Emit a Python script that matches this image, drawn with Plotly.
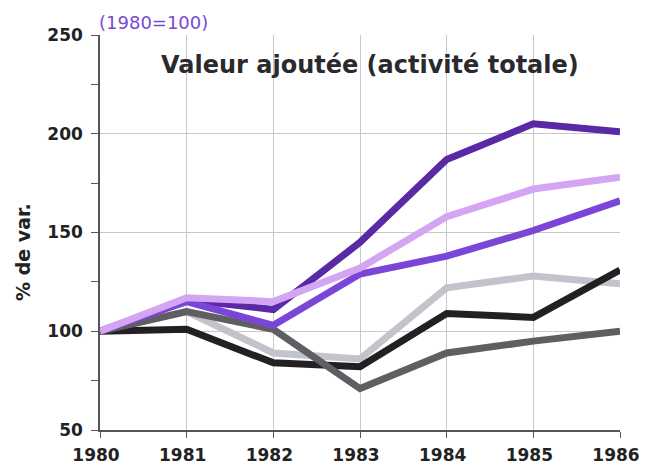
import plotly.graph_objects as go

years = [1980, 1981, 1982, 1983, 1984, 1985, 1986]
dark_gray = [100, 110, 101, 71, 89, 95, 100]
black = [100, 101, 84, 82, 109, 107, 131]
light_gray = [100, 110, 89, 86, 122, 128, 124]
medium_purple = [100, 115, 103, 129, 138, 151, 166]
dark_purple = [100, 116, 111, 145, 187, 205, 201]
light_purple = [100, 117, 115, 132, 158, 172, 178]

series = [
    (light_gray, "#c3c3cb"),
    (black, "#231f22"),
    (dark_gray, "#5f5e63"),
    (dark_purple, "#5a2aa6"),
    (medium_purple, "#7a46d8"),
    (light_purple, "#d3a5f3"),
]

fig = go.Figure()
for vals, col in series:
    fig.add_trace(go.Scatter(x=years, y=vals, mode="lines",
                             line=dict(color=col, width=7), showlegend=False,
                             hoverinfo="skip", cliponaxis=False))

W, H = 639, 457
L, R, T, B = 92, 27, 27, 35
plot_w = W - L - R
plot_h = H - T - B

# page body has an 8px default margin: figure is 639x457, offset by 8px
fig.update_layout(
    width=W, height=H,
    margin=dict(l=L, r=R, t=T, b=B, autoexpand=False),
    paper_bgcolor="white", plot_bgcolor="white",
    xaxis=dict(range=[1980, 1986], tickvals=years, ticktext=[str(y) for y in years],
               showgrid=True, gridcolor="#c8c8c8", gridwidth=1,
               showline=True, linecolor="#555555", linewidth=1.5,
               ticks="outside", ticklen=6, tickcolor="#555555",
               tickfont=dict(family="DejaVu Sans", size=17, color="#222222", weight="bold"),
               ticklabelstandoff=3, ticklabelshift=-4, automargin=False,
               zeroline=False),
    yaxis=dict(range=[50, 250], tickvals=[50, 100, 150, 200, 250],
               showgrid=True, gridcolor="#c8c8c8", gridwidth=1,
               showline=True, linecolor="#555555", linewidth=1.5,
               ticks="outside", ticklen=7, tickcolor="#555555",
               minor=dict(dtick=25, ticks="outside", ticklen=7, tickcolor="#555555", showgrid=False),
               tickfont=dict(family="DejaVu Sans", size=17, color="#222222", weight="bold"),
               ticklabelstandoff=5, automargin=False,
               zeroline=False),
    annotations=[
        dict(text="<b>Valeur ajoutée (activité totale)</b>", x=0.52, y=235,
             xref="paper", yref="y", showarrow=False, xanchor="center", yanchor="middle",
             font=dict(family="DejaVu Sans", size=24, color="#2a2a2e")),
        dict(text="(1980=100)", x=0, y=1.0, xref="paper", yref="paper", showarrow=False,
             xanchor="left", yanchor="bottom", yshift=0, xshift=-3,
             font=dict(family="DejaVu Sans", size=18, color="#7a4ad2")),
        dict(text="<b>% de var.</b>", x=(15 - L) / plot_w, y=(H - B - 244) / plot_h,
             xref="paper", yref="paper",
             xanchor="center", yanchor="middle", showarrow=False, textangle=-90,
             font=dict(family="DejaVu Sans", size=19, color="#222222")),
    ],
)
fig.write_html("out.html")
